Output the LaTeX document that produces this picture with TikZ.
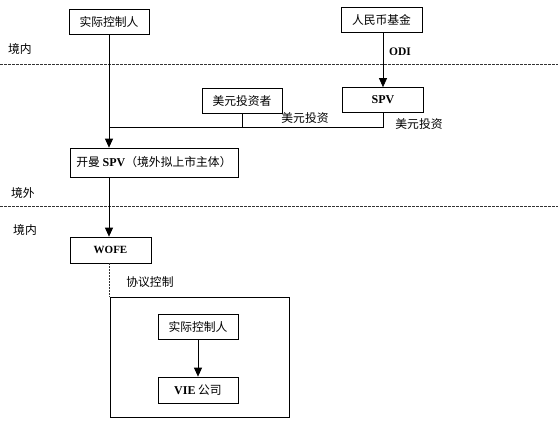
\documentclass[tikz,border=0pt]{standalone}
\usepackage{fontspec}
\setmainfont{Liberation Serif}
\newfontfamily\cjk{Noto Sans CJK SC}
\usetikzlibrary{arrows.meta}
\begin{document}
\begin{tikzpicture}[x=1pt,y=-1pt,
  boxst/.style={draw,line width=0.7pt,minimum height=25pt,inner sep=0pt,font=\cjk\fontsize{11.8}{13}\selectfont},
  lbl/.style={font=\cjk\fontsize{11.8}{13}\selectfont,inner sep=0pt},
  conn/.style={line width=0.7pt},
  arr/.style={conn,-{Triangle[width=8pt,length=9pt]}},
  border/.style={draw=black!80,line width=0.8pt,dash pattern=on 3pt off 1pt}
]
\useasboundingbox (0,0) rectangle (558,424);
% boxes
\node[boxst,minimum width=80pt] (ctrl) at (109,21.5) {实际控制人};
\node[boxst,minimum width=81pt] (fund) at (381.5,20) {人民币基金};
\node[boxst,minimum width=80pt] (inv) at (242,100.5) {美元投资者};
\node[boxst,minimum width=81pt,font=\fontsize{12}{13}\selectfont\bfseries] (spv) at (383,100) {SPV};
\node[boxst,minimum width=168pt,minimum height=29pt] (main) at (154,162.5) {开曼 {\rmfamily\fontsize{12}{13}\selectfont\bfseries SPV}（境外拟上市主体）};
\node[boxst,minimum width=81pt,minimum height=26pt,font=\fontsize{11}{13}\selectfont\bfseries] (wofe) at (110.5,250) {WOFE};
\node[draw,line width=0.7pt,minimum width=179pt,minimum height=120pt,inner sep=0pt] (vbox) at (199.5,357) {};
\node[boxst,minimum width=80pt] (ctrl2) at (198,326.5) {实际控制人};
\node[boxst,minimum width=80pt,minimum height=26pt] (vie) at (198,390) {{\rmfamily\fontsize{12}{13}\selectfont\bfseries VIE} 公司};
% region labels
\node[lbl] (l1) at (20,49) {境内};
\node[lbl] (l2) at (23,193) {境外};
\node[lbl] (l3) at (25,230) {境内};
\node[lbl] (l4) at (150,282) {协议控制};
% dashed borders
\coordinate (d1a) at (0,64); \coordinate (d1b) at (558,64);
\coordinate (d2a) at (0,206); \coordinate (d2b) at (558,206);
\draw[border] (d1a) -- (d1b);
\draw[border] (d2a) -- (d2b);
% connectors
\coordinate (junc) at (109,127);
\draw[arr] (ctrl.south) -- (ctrl.south |- main.north);
\draw[conn] (inv.south) -- (inv.south |- junc);
\draw[conn] (spv.south) |- (junc);
\draw[arr] (fund.south -| spv.north) -- (spv.north);
\node[font=\fontsize{11.5}{13}\selectfont\bfseries,inner sep=0pt] (odi) at (400,52) {ODI};
\node[lbl] (m1) at (305,118) {美元投资};
\node[lbl] (m2) at (419,124) {美元投资};
\coordinate (mainx) at (109,177);
\draw[arr] (mainx) -- (mainx |- wofe.north);
\draw[conn,draw=black!80,dash pattern=on 2pt off 1pt] (wofe.south -| vbox.north west) -- (vbox.north west);
\draw[arr] (ctrl2.south) -- (vie.north);
\end{tikzpicture}
\end{document}
